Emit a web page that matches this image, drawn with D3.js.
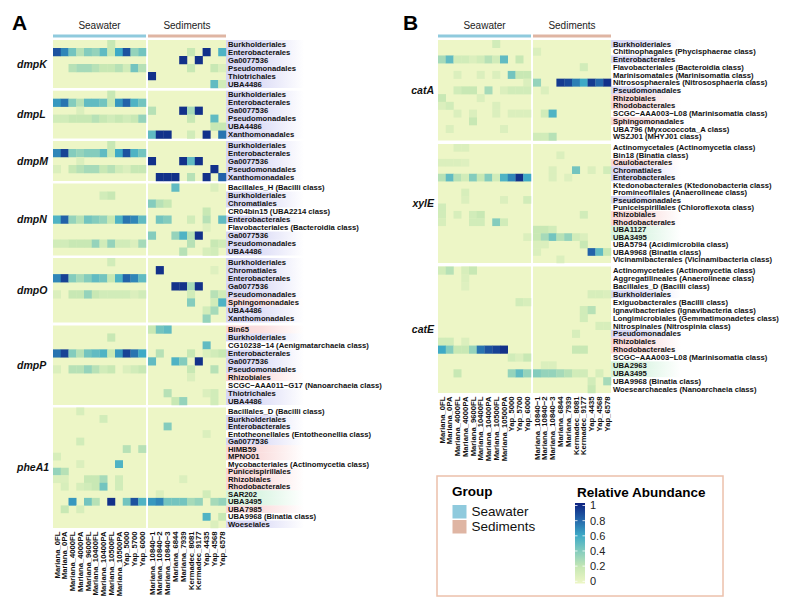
<!DOCTYPE html>
<html><head><meta charset="utf-8">
<script src="https://cdn.jsdelivr.net/npm/d3@7"></script>
<style>body{margin:0;background:#fff} svg{display:block} text{font-family:"Liberation Sans",Arial,Helvetica,sans-serif}</style>
</head><body><svg id="c" width="793" height="612"></svg>
<script>
// ---------------- DATA ----------------
const seawaterSamples = ["Mariana_0FL","Mariana_0PA","Mariana_4000FL","Mariana_4000PA","Mariana_9600FL","Mariana_10400FL","Mariana_10400PA","Mariana_10500FL","Mariana_10500PA","Yap_5000","Yap_5700","Yap_6000"];
const sedimentSamples = ["Mariana_10840\u22121","Mariana_10840\u22122","Mariana_10840\u22123","Mariana_6844","Mariana_7939","Kermadec_8081","Kermadec_9177","Yap_4435","Yap_4568","Yap_6578"];
const groupNames = ["Seawater","Sediments"];
const legendTicks = [0,0.2,0.4,0.6,0.8,1];
const colorStops = [0,0.2,0.4,0.6,0.8,1];

// each row: [taxon, class tag (g = lavender, a = pink, c = green, "" = none), seawater values, sediment values]
const dmpK = [
 ["Burkholderiales","g",[0,0,0,0,0,0,0,.2,0,0,0,0],[0,0,0,0,0,0,0,0,0,0]],
 ["Enterobacterales","g",[.85,.7,.45,.25,.4,.35,.5,.2,.6,.85,.35,.45],[0,0,0,0,0,.2,0,.95,0,.55]],
 ["Ga0077536","g",[0,0,0,0,0,0,0,0,0,0,0,0],[0,0,0,0,.95,0,.95,0,0,0]],
 ["Pseudomonadales","g",[0,0,.25,.3,.3,.25,.2,.2,.25,.15,.45,.25],[0,0,0,0,0,.2,0,0,.2,.1]],
 ["Thiotrichales","g",[0,0,0,0,0,0,0,0,0,0,0,0],[.95,0,0,0,0,0,0,0,0,0]],
 ["UBA4486","g",[0,0,0,0,0,0,0,0,0,0,0,0],[0,0,0,0,0,0,0,0,.5,.15]]
];
const dmpL = [
 ["Burkholderiales","g",[0,0,0,0,0,0,0,.2,0,0,0,0],[0,0,0,0,0,0,0,0,0,0]],
 ["Enterobacterales","g",[.65,.75,.4,.25,.5,.5,.45,.2,.65,.8,.55,.45],[0,0,0,0,0,0,0,0,0,0]],
 ["Ga0077536","g",[0,0,0,.1,0,0,0,0,0,0,0,0],[.25,0,0,0,.95,.3,.95,0,0,0]],
 ["Pseudomonadales","g",[.15,.15,.2,.2,.2,.25,.2,.15,.2,.15,.2,.35],[0,0,0,0,0,.2,0,0,.5,0]],
 ["UBA4486","g",[0,0,0,0,0,0,0,0,0,0,0,0],[0,0,0,0,0,0,0,0,.2,.2]],
 ["Xanthomonadales","g",[0,0,0,0,0,0,0,0,0,0,0,0],[.5,.95,.95,0,0,.15,0,.95,0,.75]]
];
const dmpM = [
 ["Burkholderiales","g",[0,0,0,0,0,0,0,.2,0,0,0,0],[0,0,0,0,0,0,0,0,0,0]],
 ["Enterobacterales","g",[.7,.9,.4,.35,.4,.4,.5,.2,.6,.85,.55,.45],[0,0,0,0,0,0,0,0,0,0]],
 ["Ga0077536","g",[0,0,0,.1,0,0,0,0,0,0,0,0],[.95,0,0,0,.95,.5,.95,0,0,0]],
 ["Pseudomonadales","g",[.1,0,.2,.25,.3,.3,.2,.25,.15,.1,.2,.2],[0,0,0,0,0,0,0,0,.95,0]],
 ["Xanthomonadales","g",[0,0,0,0,0,0,0,0,0,0,0,0],[0,.95,.95,.95,0,.25,0,.95,0,.8]]
];
const dmpN = [
 ["Bacillales_H (Bacilli class)","",[0,0,0,0,0,0,0,0,0,0,0,0],[0,0,0,.5,0,0,0,0,.1,0]],
 ["Burkholderiales","g",[0,0,0,0,0,0,.15,.2,0,0,0,0],[0,0,0,0,0,0,0,0,0,0]],
 ["Chromatiales","g",[0,0,0,0,0,0,0,0,0,0,0,0],[.4,.25,.2,0,0,0,0,0,0,0]],
 ["CR04bin15 (UBA2214 class)","",[0,0,0,0,0,0,0,0,0,0,0,0],[0,0,0,0,0,0,0,.2,0,0]],
 ["Enterobacterales","g",[.55,.8,.35,.25,.45,.4,.35,.2,.55,.75,.7,.5],[0,.45,.4,0,0,.15,0,.25,0,.5]],
 ["Flavobacteriales (Bacteroidia class)","",[0,0,0,0,0,0,0,0,0,0,0,0],[0,0,0,0,0,0,0,.08,0,0]],
 ["Ga0077536","g",[0,0,0,0,0,0,0,0,0,0,0,0],[.4,0,0,.35,.55,.25,.95,0,0,0]],
 ["Pseudomonadales","g",[.15,.15,.2,.2,.2,.35,.15,.35,.15,.15,.1,.3],[0,0,0,0,0,.25,0,0,.2,.15]],
 ["UBA4486","g",[0,0,0,0,0,0,0,0,0,0,0,0],[0,0,0,0,.25,0,0,.12,.15,0]]
];
const dmpO = [
 ["Burkholderiales","g",[0,0,0,0,0,0,0,.15,0,0,0,0],[0,0,0,0,0,0,0,0,0,0]],
 ["Chromatiales","g",[0,0,0,0,0,0,0,0,0,0,0,0],[0,.95,0,0,0,0,0,0,.08,0]],
 ["Enterobacterales","g",[.7,.9,.4,.3,.4,.5,.45,.2,.55,.8,.7,.5],[0,0,0,0,0,0,0,0,0,0]],
 ["Ga0077536","g",[0,0,0,0,0,0,0,0,0,0,0,0],[0,0,0,.95,.95,.3,.95,0,0,0]],
 ["Pseudomonadales","g",[.1,0,.2,.2,.35,.2,.15,.15,.15,.15,.1,.15],[0,0,0,0,0,.15,0,0,.25,.15]],
 ["Sphingomonadales","a",[0,0,0,0,0,0,0,0,0,0,0,0],[0,0,0,0,0,.4,0,0,.15,.55]],
 ["UBA4486","g",[0,0,0,0,0,0,0,0,0,0,0,0],[0,0,0,0,0,0,0,.15,.3,0]],
 ["Xanthomonadales","g",[0,0,0,0,0,0,0,0,0,0,0,0],[0,0,0,0,0,0,0,.35,0,0]]
];
const dmpP = [
 ["Bin65","a",[0,0,0,0,0,0,0,0,0,0,0,0],[.2,.45,.5,0,0,0,0,0,0,0]],
 ["Burkholderiales","g",[0,0,0,0,0,0,0,.2,0,0,0,0],[0,0,0,0,0,0,0,0,0,0]],
 ["CG10238\u221214 (Aenigmatarchaeia class)","",[0,0,0,0,0,0,0,0,0,0,0,0],[0,0,0,0,0,0,0,.5,0,0]],
 ["Enterobacterales","g",[.75,.9,.4,.25,.45,.5,.55,.2,.65,.9,.75,.6],[0,.25,0,0,0,.2,0,.1,.15,.2]],
 ["Ga0077536","g",[0,0,0,0,0,0,0,0,0,0,0,0],[.5,0,0,.55,.4,0,.95,0,0,0]],
 ["Pseudomonadales","g",[.1,0,.25,.25,.35,.25,.15,.2,0,.1,.15,.2],[0,0,0,0,0,.2,0,0,.25,0]],
 ["Rhizobiales","a",[0,0,0,0,0,0,0,0,0,0,0,0],[0,0,0,0,0,.1,0,0,0,0]],
 ["SCGC\u2212AAA011\u2212G17 (Nanoarchaeia class)","",[0,0,0,0,0,0,0,0,0,0,0,0],[0,0,0,0,0,0,0,0,0,0]],
 ["Thiotrichales","g",[0,0,0,0,0,0,0,0,0,0,0,0],[0,0,.25,0,0,0,0,.1,.15,0]],
 ["UBA4486","g",[0,0,0,0,0,0,0,0,0,0,0,0],[0,0,0,.2,.35,0,0,0,.15,0]]
];
const pheA1 = [
 ["Bacillales_D (Bacilli class)","",[0,0,0,.12,0,0,0,0,0,0,0,0],[0,0,0,0,0,0,0,0,0,0]],
 ["Burkholderiales","g",[0,0,0,0,0,0,.15,0,0,0,0,0],[0,0,0,0,0,0,0,0,0,0]],
 ["Enterobacterales","g",[0,0,0,0,0,0,0,0,0,0,0,0],[0,0,.4,0,0,0,0,0,0,0]],
 ["Entotheonellales (Entotheonellia class)","",[0,0,0,0,0,0,0,0,0,0,0,0],[0,0,0,0,0,0,0,.1,0,0]],
 ["Ga0077536","g",[0,0,0,.15,0,0,0,0,0,0,0,0],[0,0,0,0,0,0,0,0,0,0]],
 ["HIMB59","a",[0,0,0,0,0,0,0,0,0,.25,0,.25],[0,0,0,0,0,0,0,0,0,0]],
 ["MPNO01","a",[.12,0,0,0,0,0,0,0,0,0,0,0],[0,0,0,0,0,0,0,0,0,0]],
 ["Mycobacteriales (Actinomycetia class)","",[0,0,0,.1,0,0,0,0,.55,0,0,0],[0,0,0,0,0,0,0,0,0,0]],
 ["Puniceispirillales","a",[.35,.25,0,0,0,0,0,0,0,0,0,0],[0,0,0,0,0,0,0,0,0,0]],
 ["Rhizobiales","a",[.1,.1,0,0,.2,.2,.3,0,.15,0,0,0],[0,0,0,0,.1,0,0,0,0,0]],
 ["Rhodobacterales","a",[0,.12,0,.12,.15,.2,.45,0,.15,0,0,0],[0,0,0,0,0,0,0,0,0,0]],
 ["SAR202","c",[0,0,0,0,0,0,0,0,0,0,0,0],[0,.1,0,0,0,0,0,.15,0,0]],
 ["UBA3495","c",[0,0,.65,0,.45,.25,0,.95,0,.45,.85,.55],[.65,.7,.45,.45,.45,.3,.35,0,.3,.35]],
 ["UBA7985","a",[0,.2,0,.12,0,0,0,0,0,0,0,0],[0,0,0,0,0,0,0,0,0,0]],
 ["UBA9968 (Binatia class)","",[0,0,0,0,0,0,0,0,0,0,0,0],[0,0,0,0,0,0,0,.55,0,.2]],
 ["Woeseiales","g",[0,0,0,0,0,0,0,0,0,0,0,0],[0,0,0,0,0,0,0,0,.1,0]]
];
const catA = [
 ["Burkholderiales","g",[0,0,0,0,0,0,0,.15,0,0,0,0],[0,0,0,0,0,0,0,0,0,0]],
 ["Chitinophagales (Phycisphaerae class)","",[0,0,0,0,0,0,0,0,0,0,0,0],[.1,0,0,0,0,0,0,0,0,0]],
 ["Enterobacterales","g",[.3,.5,.15,.15,.1,.15,.25,.15,.5,0,.2,0],[0,0,0,0,0,0,0,0,0,0]],
 ["Flavobacteriales (Bacteroidia class)","",[0,0,0,0,0,0,0,0,0,0,0,0],[0,0,0,0,0,0,.15,0,0,0]],
 ["Marinisomatales (Marinisomatia class)","",[0,0,.1,0,0,.1,0,.1,0,.45,.2,.2],[0,0,0,0,0,0,0,0,0,0]],
 ["Nitrososphaerales (Nitrososphaeria class)","",[0,0,0,0,0,0,0,0,0,0,0,.1],[.35,0,0,.92,.88,.72,.6,.92,.78,.95]],
 ["Pseudomonadales","g",[0,0,.15,.2,.2,0,.3,0,.1,.15,.15,.15],[0,.1,0,0,0,0,0,0,0,0]],
 ["Rhizobiales","a",[.2,0,0,0,0,.1,0,0,0,0,0,0],[0,0,0,0,0,0,0,0,0,0]],
 ["Rhodobacterales","a",[.1,.15,0,0,0,0,0,.1,0,0,0,0],[0,0,0,0,0,0,0,0,0,0]],
 ["SCGC\u2212AAA003\u2212L08 (Marinisomatia class)","",[0,0,.1,0,.1,0,0,.1,0,.1,.1,.1],[0,.15,.55,0,0,0,0,0,0,0]],
 ["Sphingomonadales","a",[0,0,0,0,.2,0,0,0,0,0,0,0],[0,0,0,0,0,0,0,0,0,0]],
 ["UBA796 (Myxococcota_A class)","",[0,.1,0,0,0,0,0,0,.1,0,0,0],[0,0,0,0,0,0,0,0,0,0]],
 ["WSZJ01 (MHYJ01 class)","",[0,0,0,0,0,0,0,0,0,0,0,0],[.15,.15,.25,0,0,0,0,0,0,0]]
];
const xylE = [
 ["Actinomycetales (Actinomycetia class)","",[0,0,.1,.1,0,0,0,0,0,0,0,0],[0,0,0,0,0,0,0,0,0,0]],
 ["Bin18 (Binatia class)","",[0,0,0,0,0,0,0,0,0,0,0,0],[0,0,0,.1,0,0,0,0,0,0]],
 ["Caulobacterales","a",[.1,.1,.1,.08,0,0,0,0,0,0,0,0],[0,0,0,0,0,0,0,0,0,0]],
 ["Chromatiales","g",[0,0,0,0,0,0,0,0,0,0,0,0],[0,0,.1,0,0,.45,0,.1,0,.15]],
 ["Enterobacterales","g",[.25,.5,.25,.15,.4,.2,.4,.15,.55,.7,.95,.6],[0,0,.1,0,.08,0,0,0,0,0]],
 ["Ktedonobacterales (Ktedonobacteria class)","",[0,0,0,0,0,0,0,0,0,0,0,0],[0,0,0,0,0,0,0,0,0,0]],
 ["Promineofilales (Anaerolineae class)","",[0,0,0,.12,0,0,0,0,0,0,0,0],[0,0,0,0,0,0,0,0,0,0]],
 ["Pseudomonadales","g",[0,0,0,.1,0,0,0,0,.1,0,0,.15],[0,0,0,0,0,0,0,0,0,0]],
 ["Puniceispirillales (Chloroflexota class)","",[.15,0,0,0,0,0,0,0,0,0,0,0],[0,0,0,0,0,0,0,0,0,0]],
 ["Rhizobiales","a",[.15,0,.12,0,.15,.2,0,0,0,0,0,0],[0,0,0,0,0,0,.15,0,0,0]],
 ["Rhodobacterales","a",[.12,0,0,0,.15,.15,0,.4,.15,0,0,0],[0,0,0,0,0,0,0,0,0,0]],
 ["UBA1127","c",[0,0,0,0,0,0,0,0,0,0,0,0],[.2,.2,.15,0,0,0,0,0,0,0]],
 ["UBA3495","c",[0,0,0,0,0,0,0,0,0,0,0,.1],[.2,.3,.45,.25,.35,.15,.1,0,0,0]],
 ["UBA5794 (Acidimicrobiia class)","",[0,0,0,0,0,0,0,0,0,0,0,0],[.1,.1,0,0,0,0,.2,0,0,0]],
 ["UBA9968 (Binatia class)","",[0,0,0,0,0,0,0,0,0,0,0,0],[.1,0,0,0,0,0,0,.8,.5,.2]],
 ["Vicinamibacterales (Vicinamibacteria class)","",[0,0,0,0,0,0,0,0,0,0,0,0],[0,0,0,.1,0,0,0,0,0,0]]
];
const catE = [
 ["Actinomycetales (Actinomycetia class)","",[.15,.25,0,.12,.2,0,0,0,0,0,0,0],[0,0,0,0,0,0,0,0,0,0]],
 ["Aggregatilineales (Anaerolineae class)","",[0,0,0,.1,0,0,0,0,0,0,0,0],[0,0,0,0,0,0,0,0,0,0]],
 ["Bacillales_D (Bacilli class)","",[0,0,0,.08,0,0,0,0,0,0,0,0],[0,0,0,0,0,0,0,0,0,0]],
 ["Burkholderiales","g",[0,0,0,0,0,0,0,0,0,0,0,0],[0,0,0,0,0,0,0,.12,.12,.1]],
 ["Exiguobacterales (Bacilli class)","",[0,0,0,0,0,0,0,0,0,0,.15,.12],[0,0,0,0,0,0,0,0,0,0]],
 ["Ignavibacteriales (Ignavibacteria class)","",[0,0,0,0,0,0,0,0,0,0,0,0],[0,0,0,0,0,0,.15,.25,0,0]],
 ["Longimicrobiales (Gemmatimonadetes class)","",[0,0,0,0,0,0,0,0,0,0,0,0],[0,0,0,0,0,0,.15,0,0,0]],
 ["Nitrospinales (Nitrospinia class)","",[0,0,0,0,0,0,0,0,0,0,0,0],[0,0,0,0,0,0,0,0,.12,.12]],
 ["Pseudomonadales","g",[0,0,0,0,0,0,0,0,0,0,0,0],[0,0,0,0,0,.12,0,0,0,0]],
 ["Rhizobiales","a",[.15,.15,0,.1,0,0,0,0,0,0,0,0],[0,0,0,0,0,0,0,0,0,0]],
 ["Rhodobacterales","a",[.6,.4,.2,.2,.35,.75,.85,.9,.95,0,0,0],[0,0,0,0,0,.2,.2,0,0,0]],
 ["SCGC\u2212AAA003\u2212L08 (Marinisomatia class)","",[0,0,0,0,0,0,0,0,0,.15,.1,.2],[0,0,0,0,0,0,0,0,0,0]],
 ["UBA2963","c",[0,0,0,0,0,0,0,0,0,0,0,0],[0,.1,.1,0,0,0,0,0,0,0]],
 ["UBA3495","c",[0,0,.2,0,0,0,0,0,0,.35,.5,.35],[.4,.35,.35,.3,.25,.15,.15,0,.12,0]],
 ["UBA9968 (Binatia class)","",[0,0,0,0,0,0,0,0,0,0,0,0],[0,0,0,0,0,0,0,.15,0,.3]],
 ["Woesearchaeales (Nanoarchaeia class)","",[0,0,0,0,0,0,0,0,0,0,0,0],[0,0,0,0,0,0,0,.2,0,0]]
];
const genesA = ["dmpK","dmpL","dmpM","dmpN","dmpO","dmpP","pheA1"];
const genesB = ["catA","xylE","catE"];
const rowsA = [dmpK,dmpL,dmpM,dmpN,dmpO,dmpP,pheA1];
const rowsB = [catA,xylE,catE];

// ---------------- LAYOUT / STYLE ----------------
const W = 793, H = 612;
const svg = d3.select("#c");
const colorRange = ["#edf6c6","#c8e8b4","#84ccbd","#3eaac6","#2262a9","#0c2180"];
const color = d3.scaleLinear().domain(colorStops).range(colorRange).interpolate(d3.interpolateRgb).clamp(true);
const groupColors = {Seawater:"#8fcadd", Sediments:"#dfb5a3"};
const tagColors = {g:"#c9c9f2", a:"#f7c9c9", c:"#c6efd3"};

const defs = svg.append("defs");
Object.entries(tagColors).forEach(([k,c]) => {
  const g = defs.append("linearGradient").attr("id","bg_"+k).attr("x1","0%").attr("x2","100%");
  g.append("stop").attr("offset","0%").attr("stop-color",c).attr("stop-opacity",0.75);
  g.append("stop").attr("offset","45%").attr("stop-color",c).attr("stop-opacity",0.6);
  g.append("stop").attr("offset","100%").attr("stop-color",c).attr("stop-opacity",0);
});

function drawPanel(cfg) {
  const g = svg.append("g");
  const xSw = d3.scaleBand().domain(seawaterSamples).range([cfg.x0, cfg.x0 + 93]);
  const xSd = d3.scaleBand().domain(sedimentSamples).range([cfg.x0 + 95, cfg.x0 + 173]);
  const blocks = [{name:"Seawater", x:xSw, samples:seawaterSamples, key:2},
                  {name:"Sediments", x:xSd, samples:sedimentSamples, key:3}];
  // panel letter
  g.append("text").attr("x", cfg.letterX).attr("y", 29.5).attr("font-size", 21).attr("font-weight","bold").text(cfg.letter);
  // group headers
  blocks.forEach(b => {
    const r = b.x.range();
    g.append("text").attr("x", (r[0]+r[1])/2).attr("y", 29).attr("text-anchor","middle")
      .attr("font-size", 10).attr("fill","#222").text(b.name);
    g.append("rect").attr("x", r[0]).attr("y", 34.5).attr("width", r[1]-r[0]).attr("height", 3)
      .attr("fill", groupColors[b.name]);
  });
  cfg.genes.forEach((gene, gi) => {
    const rows = cfg.rows[gi];
    const [y0, y1] = cfg.yRanges[gi];
    const y = d3.scaleBand().domain(rows.map(r => r[0])).range([y0, y1]);
    // label backgrounds
    g.selectAll(null).data(rows.filter(r => r[1])).join("rect")
      .attr("x", cfg.labelX - 2).attr("y", r => y(r[0])).attr("width", cfg.bgW).attr("height", y.bandwidth())
      .attr("fill", r => "url(#bg_" + r[1] + ")");
    blocks.forEach(b => {
      const r = b.x.range();
      g.append("rect").attr("x", r[0]).attr("y", y0).attr("width", r[1]-r[0]).attr("height", y1-y0).attr("fill", color(0));
      rows.forEach(row => {
        row[b.key].forEach((v, i) => {
          if (v > 0) g.append("rect").attr("x", b.x(b.samples[i])).attr("y", y(row[0]))
            .attr("width", b.x.bandwidth()+0.25).attr("height", y.bandwidth()+0.25).attr("fill", color(v));
        });
      });
    });
    // row labels
    g.selectAll(null).data(rows).join("text")
      .attr("x", cfg.labelX).attr("y", r => y(r[0]) + y.bandwidth()/2).attr("dy","0.36em")
      .attr("font-size", 7.7).attr("font-weight","bold").attr("fill","#111").text(r => r[0]);
    // gene label
    g.append("text").attr("x", cfg.geneX).attr("y", (y0+y1)/2).attr("dy","0.35em")
      .attr("text-anchor", cfg.geneAnchor).attr("font-size", 10.5).attr("font-weight","bold")
      .attr("font-style","italic").attr("fill","#111").text(gene);
  });
  // column labels
  const yb = cfg.yRanges[cfg.yRanges.length-1][1] + 3.5;
  blocks.forEach(b => {
    g.selectAll(null).data(b.samples).join("text")
      .attr("transform", s => `translate(${b.x(s) + b.x.bandwidth()/2},${yb}) rotate(-90)`)
      .attr("text-anchor","end").attr("dy","0.36em").attr("font-size", 7.7).attr("font-weight","bold")
      .attr("fill","#111").text(s => s);
  });
}

drawPanel({letter:"A", letterX:12, x0:53, labelX:228, bgW:78, geneX:17, geneAnchor:"start",
  genes:genesA, rows:rowsA,
  yRanges:[[40,88],[90.7,138.5],[141,181],[183.5,255.5],[258,322.5],[325.5,405],[407.5,528]]});
drawPanel({letter:"B", letterX:403, x0:438, labelX:613, bgW:70, geneX:434, geneAnchor:"end",
  genes:genesB, rows:rowsB,
  yRanges:[[40,140.5],[144,263],[266.5,393]]});

// ---------------- LEGEND ----------------
const lg = svg.append("g");
lg.append("rect").attr("x", 437).attr("y", 476).attr("width", 286).attr("height", 120)
  .attr("fill","#fff").attr("stroke","#ecc0ab").attr("stroke-width",1.5);
lg.append("text").attr("x", 452).attr("y", 496).attr("font-size", 13.5).attr("font-weight","bold").text("Group");
groupNames.forEach((n, i) => {
  lg.append("rect").attr("x", 452.5).attr("y", 505 + i*15).attr("width", 14).attr("height", 13.5).attr("fill", groupColors[n]);
  lg.append("text").attr("x", 471.5).attr("y", 516 + i*15).attr("font-size", 13.5).attr("fill","#111").text(n);
});
lg.append("text").attr("x", 577).attr("y", 497).attr("font-size", 13.5).attr("font-weight","bold").text("Relative Abundance");
const cb = defs.append("linearGradient").attr("id","cbar").attr("x1","0%").attr("x2","0%").attr("y1","100%").attr("y2","0%");
d3.range(0, 1.0001, 0.05).forEach(t => cb.append("stop").attr("offset", (t*100)+"%").attr("stop-color", color(t)));
const yc = d3.scaleLinear().domain([0,1]).range([581.3, 505.5]);
lg.append("rect").attr("x", 575).attr("y", 503).attr("width", 10).attr("height", 80.5).attr("fill","url(#cbar)");
legendTicks.forEach(t => {
  lg.append("line").attr("x1",575).attr("x2",577.5).attr("y1",yc(t)).attr("y2",yc(t)).attr("stroke","#fff").attr("stroke-width",0.8);
  lg.append("line").attr("x1",582.5).attr("x2",585).attr("y1",yc(t)).attr("y2",yc(t)).attr("stroke","#fff").attr("stroke-width",0.8);
  lg.append("text").attr("x", 590).attr("y", yc(t)).attr("dy","0.36em").attr("font-size", 11).attr("fill","#222").text(d3.format("~g")(t));
});
</script></body></html>
